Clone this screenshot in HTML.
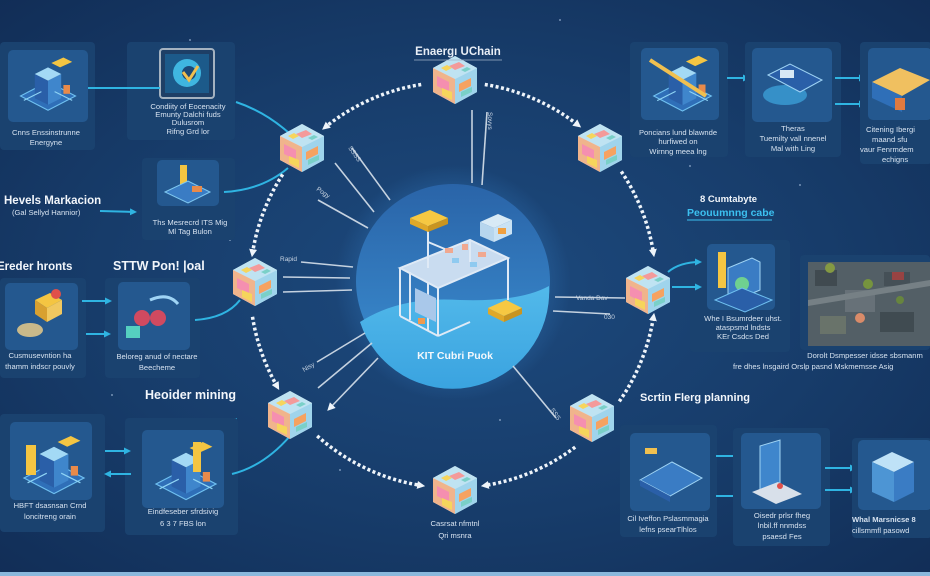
<!DOCTYPE html>
<html><head><meta charset="utf-8"><style>
html,body{margin:0;padding:0;background:#143764;}
svg{display:block;font-family:"Liberation Sans",sans-serif;}
.t{fill:#d6e2f0;font-size:7.6px;text-anchor:middle;}
.ts{fill:#d6e2f0;font-size:7.6px;}
.h{fill:#f2f6fb;font-size:12.5px;font-weight:bold;}
.lbl{fill:#c9d5e3;font-size:6.5px;}
.po{fill:#1a426f;}
.pi{fill:#24588f;}
.cy{stroke:#2fb4e2;stroke-width:2;fill:none;}
.rl{stroke:#c5d2e0;stroke-width:1.6;}
</style></head><body>
<svg width="930" height="576" viewBox="0 0 930 576" xmlns="http://www.w3.org/2000/svg">
<defs>
<radialGradient id="bg" cx="50%" cy="50%" r="72%">
<stop offset="0" stop-color="#1d4a7e"/><stop offset="0.55" stop-color="#173c6a"/><stop offset="1" stop-color="#112d56"/>
</radialGradient>
<radialGradient id="glow" cx="50%" cy="50%" r="50%">
<stop offset="0.7" stop-color="#2a67a5" stop-opacity="0.6"/><stop offset="1" stop-color="#2a67a5" stop-opacity="0"/>
</radialGradient>
<linearGradient id="cg" x1="0" y1="0" x2="0" y2="1">
<stop offset="0" stop-color="#2a64a8"/><stop offset="1" stop-color="#3b8fd2"/>
</linearGradient>
<linearGradient id="wg" x1="0" y1="0" x2="0" y2="1">
<stop offset="0" stop-color="#52b9ea"/><stop offset="1" stop-color="#3aa3e0"/>
</linearGradient>
<marker id="ah" markerWidth="8" markerHeight="8" refX="4" refY="4" orient="auto" markerUnits="userSpaceOnUse">
<path d="M0,0 L8,4 L0,8 z" fill="#eef4fa"/></marker>
<marker id="ac" markerWidth="7" markerHeight="7" refX="5" refY="3.5" orient="auto" markerUnits="userSpaceOnUse">
<path d="M0,0 L7,3.5 L0,7 z" fill="#2fb4e2"/></marker>
<g id="cube">
<polygon points="0,-24 22,-12 22,12 0,24 -22,12 -22,-12" fill="#e6f2f8"/>
<polygon points="0,-24 22,-12 0,-1 -22,-12" fill="#bfe3f2"/>
<polygon points="-22,-12 0,-1 0,24 -22,12" fill="#f0b48c"/>
<polygon points="0,-1 22,-12 22,12 0,24" fill="#9fd4ec"/>
<polygon points="-18,-4 -6,2 -6,12 -18,6" fill="#f58fb0"/>
<polygon points="-13,8 -3,12 -3,20 -13,15" fill="#f6d55c"/>
<polygon points="4,4 16,-2 16,6 4,12" fill="#f6a261"/>
<polygon points="6,12 17,7 17,12 6,17" fill="#7ad0c8"/>
<polygon points="-6,-14 4,-18 10,-14 0,-10" fill="#f49a9a"/>
<polygon points="-14,-12 -8,-15 -3,-12 -9,-9" fill="#f6d55c"/>
<polygon points="6,-10 12,-13 16,-11 10,-8" fill="#7ad0c8"/>
</g>
<g id="bld">
<polygon points="5,40 30,27 55,40 30,53" fill="#2f6fb8" stroke="#6fc0f0" stroke-width="1"/>
<polygon points="18,20 30,26 30,48 18,42" fill="#2a5fa8"/>
<polygon points="30,26 42,20 42,42 30,48" fill="#3f86cc"/>
<polygon points="18,20 30,14 42,20 30,26" fill="#a3d9f5"/>
<polygon points="33,10 44,5 52,9 41,14" fill="#f4c542"/>
<rect x="44" y="30" width="6" height="8" fill="#e88a4a"/>
<line x1="8" y1="44" x2="24" y2="36" stroke="#8fd4f5" stroke-width="1"/>
<line x1="36" y1="36" x2="52" y2="44" stroke="#8fd4f5" stroke-width="1"/>
</g>
</defs>

<rect width="930" height="576" fill="url(#bg)"/>
<rect x="0" y="572" width="930" height="4" fill="#8ab8dc"/>

<g fill="#9fb8d6" opacity="0.7">
<circle cx="190" cy="40" r="1"/><circle cx="560" cy="20" r="1"/><circle cx="800" cy="185" r="1"/><circle cx="230" cy="240" r="1"/><circle cx="690" cy="166" r="1"/><circle cx="500" cy="420" r="1"/><circle cx="112" cy="395" r="1"/><circle cx="340" cy="470" r="1"/></g>

<!-- ===== LEFT PANELS ===== -->
<rect class="po" x="0" y="42" width="95" height="108" rx="4"/>
<rect class="pi" x="8" y="50" width="80" height="72" rx="5"/>
<use href="#bld" transform="translate(15,52) scale(1.1)"/>
<text class="t" x="46" y="135">Cnns Enssinstrunne</text>
<text class="t" x="46" y="145">Energyne</text>

<rect class="po" x="127" y="42" width="108" height="98" rx="4"/>
<rect x="160" y="49" width="54" height="49" rx="3" fill="#1e3f66" stroke="#a4b2c0" stroke-width="2"/>
<rect x="165" y="54" width="44" height="39" fill="#1c5a8a"/>
<circle cx="187" cy="73" r="14" fill="#3fb6e0"/>
<circle cx="189" cy="73" r="7" fill="#1c4a78"/>
<path d="M183,72 L189,80 L198,66" stroke="#f0c050" stroke-width="3" fill="none"/>
<text class="t" x="188" y="109">Condiity of Eocenacity</text>
<text class="t" x="188" y="117">Emunty Dalchi fuds</text>
<text class="t" x="188" y="125">Dulusrom</text>
<text class="t" x="188" y="134">Rifng Grd lor</text>
<line class="cy" x1="88" y1="88" x2="160" y2="88"/>
<path class="cy" d="M236,102 Q266,112 290,134"/>

<text class="h" x="4" y="204" style="font-size:11.5px">Hevels Markacion</text>
<text class="ts" x="12" y="215">(Gal Sellyd Hannior)</text>
<line class="cy" x1="100" y1="211" x2="135" y2="212" marker-end="url(#ac)"/>
<rect class="po" x="142" y="158" width="93" height="82" rx="4"/>
<rect class="pi" x="157" y="160" width="62" height="46" rx="5"/>
<rect x="180" y="165" width="7" height="22" fill="#f4c542"/>
<polygon points="165,192 188,181 210,192 188,203" fill="#3a7cc4" stroke="#7fc8f0"/>
<rect x="192" y="186" width="10" height="6" fill="#e88a4a"/>
<text class="t" x="190" y="225">Ths Mesrecrd ITS Mig</text>
<text class="t" x="190" y="234">Ml Tag Bulon</text>
<path class="cy" d="M224,192 Q262,190 288,168"/>

<text class="h" x="-3" y="270" style="font-size:11.5px">Ereder hronts</text>
<text class="h" x="113" y="270">STTW Pon! |oal</text>
<rect class="po" x="0" y="278" width="86" height="100" rx="4"/>
<rect class="pi" x="5" y="283" width="73" height="67" rx="5"/>
<polygon points="35,300 50,293 62,300 47,308" fill="#f4c542"/>
<polygon points="35,300 47,308 47,322 35,314" fill="#d8a030"/>
<polygon points="47,308 62,300 62,314 47,322" fill="#f0c860"/>
<circle cx="56" cy="294" r="5" fill="#e0504a"/>
<ellipse cx="30" cy="330" rx="13" ry="7" fill="#c9b98a"/>
<text class="t" x="40" y="358">Cusmusevntion ha</text>
<text class="t" x="40" y="369">thamm indscr pouvly</text>
<rect class="po" x="105" y="278" width="95" height="100" rx="4"/>
<rect class="pi" x="118" y="282" width="72" height="68" rx="5"/>
<circle cx="142" cy="318" r="8" fill="#d04a60"/>
<circle cx="158" cy="318" r="8" fill="#d04a60"/>
<rect x="126" y="326" width="14" height="12" fill="#55d0c0"/>
<path d="M150,300 Q168,292 178,304" stroke="#9fd4f5" stroke-width="3" fill="none"/>
<text class="t" x="157" y="359">Beloreg anud of nectare</text>
<text class="t" x="157" y="370">Beecheme</text>
<line class="cy" x1="82" y1="301" x2="110" y2="301" marker-end="url(#ac)"/>
<line class="cy" x1="86" y1="334" x2="109" y2="334" marker-end="url(#ac)"/>
<path class="cy" d="M195,320 Q226,318 240,300"/>

<text class="h" x="145" y="399">Heoider mining</text>
<line x1="130" y1="419" x2="237" y2="419" stroke="#2fb4e2" stroke-width="1.5"/>
<rect class="po" x="0" y="414" width="105" height="118" rx="4"/>
<rect class="pi" x="10" y="422" width="82" height="78" rx="5"/>
<use href="#bld" transform="translate(18,430) scale(1.2)"/>
<rect x="26" y="445" width="10" height="30" fill="#f4c542"/>
<text class="t" x="50" y="508">HBFT dsasnsan Crnd</text>
<text class="t" x="50" y="519">loncitreng orain</text>
<rect class="po" x="125" y="418" width="113" height="117" rx="4"/>
<rect class="pi" x="142" y="430" width="82" height="78" rx="5"/>
<use href="#bld" transform="translate(150,436) scale(1.2)"/>
<rect x="193" y="442" width="8" height="30" fill="#f4c542"/>
<text class="t" x="183" y="514">Eindfeseber sfrdsivig</text>
<text class="t" x="183" y="526">6 3 7 FBS lon</text>
<line class="cy" x1="105" y1="451" x2="129" y2="451" marker-end="url(#ac)"/>
<line class="cy" x1="131" y1="474" x2="106" y2="474" marker-end="url(#ac)"/>
<path class="cy" d="M232,474 Q264,466 290,436"/>

<!-- ===== RIGHT PANELS ===== -->
<rect class="po" x="630" y="42" width="98" height="115" rx="4"/>
<rect class="pi" x="641" y="48" width="78" height="72" rx="5"/>
<use href="#bld" transform="translate(648,50) scale(1.15)"/>
<line x1="650" y1="60" x2="706" y2="96" stroke="#f0c050" stroke-width="4"/>
<text class="t" x="678" y="135">Poncians lund blawnde</text>
<text class="t" x="678" y="144">hurfiwed on</text>
<text class="t" x="678" y="154">Wirnng meea lng</text>
<line class="cy" x1="727" y1="78" x2="748" y2="78" marker-end="url(#ac)"/>

<rect class="po" x="745" y="42" width="96" height="115" rx="4"/>
<rect class="pi" x="752" y="48" width="80" height="74" rx="5"/>
<ellipse cx="785" cy="95" rx="22" ry="10" fill="#3fa8e0" opacity="0.7"/>
<polygon points="768,75 790,64 822,80 800,92" fill="#2a5fa8" stroke="#9fd4f5"/>
<rect x="780" y="70" width="14" height="8" fill="#d8e8f5"/>
<text class="t" x="793" y="131">Theras</text>
<text class="t" x="793" y="141">Tuemilty vall nnenel</text>
<text class="t" x="793" y="151">Mal with Ling</text>
<line class="cy" x1="835" y1="78" x2="864" y2="78" marker-end="url(#ac)"/>
<line class="cy" x1="835" y1="104" x2="864" y2="104" marker-end="url(#ac)"/>

<rect class="po" x="860" y="42" width="72" height="122" rx="4"/>
<rect class="pi" x="868" y="48" width="64" height="72" rx="5"/>
<polygon points="872,82 900,68 930,80 902,96" fill="#f0c060"/>
<polygon points="872,82 902,96 902,112 872,98" fill="#2f6fb8"/>
<rect x="895" y="98" width="10" height="12" fill="#e07a40"/>
<text class="ts" x="866" y="132">Citening Ibergi</text>
<text class="ts" x="872" y="142">maand sfu</text>
<text class="ts" x="860" y="152">vaur Fenrmdem</text>
<text class="ts" x="882" y="162">echigns</text>

<text x="700" y="202" fill="#f2f6fb" font-size="9.5" font-weight="bold">8 Cumtabyte</text>
<text x="687" y="216" fill="#3cc0f0" font-size="10.5" font-weight="bold">Peouumnng cabe</text>
<line x1="687" y1="220" x2="772" y2="220" stroke="#3cc0f0" stroke-width="1"/>

<rect class="po" x="690" y="240" width="100" height="112" rx="4"/>
<rect class="pi" x="707" y="244" width="68" height="66" rx="5"/>
<rect x="718" y="252" width="8" height="36" fill="#f4c542"/>
<polygon points="728,268 752,258 760,262 760,290 736,300 728,296" fill="#3a7cc4" stroke="#9fd4f5"/>
<circle cx="742" cy="284" r="7" fill="#6fd090"/>
<polygon points="715,300 742,288 772,300 745,312" fill="#2a5fa8" stroke="#6fc0f0"/>
<text class="t" x="743" y="321">Whe I Bsumrdeer uhst.</text>
<text class="t" x="743" y="330">ataspsmd lndsts</text>
<text class="t" x="743" y="339">KEr Csdcs Ded</text>
<path class="cy" d="M668,272 Q680,262 700,262" marker-end="url(#ac)"/>
<line class="cy" x1="672" y1="287" x2="700" y2="287" marker-end="url(#ac)"/>

<rect class="po" x="800" y="255" width="130" height="95" rx="4"/>
<rect x="808" y="262" width="122" height="84" fill="#535f66"/>
<g opacity="0.9">
<rect x="815" y="270" width="22" height="16" fill="#3e484e"/>
<rect x="845" y="290" width="30" height="22" fill="#6a747a"/>
<rect x="884" y="272" width="26" height="14" fill="#444f56"/>
<rect x="820" y="316" width="26" height="18" fill="#6c766b"/>
<rect x="880" y="312" width="34" height="20" fill="#3f494f"/>
<polygon points="808,300 930,280 930,286 808,306" fill="#7a8489"/>
<circle cx="830" cy="268" r="5" fill="#8aa040"/>
<circle cx="868" cy="284" r="5" fill="#7a9a3a"/>
<circle cx="900" cy="300" r="4" fill="#6a8a3a"/>
<circle cx="860" cy="318" r="5" fill="#e8906a"/>
<rect x="892" y="272" width="12" height="8" fill="#a04040"/>
</g>
<text class="t" x="865" y="358">Dorolt Dsmpesser idsse sbsmanm</text>
<text class="ts" x="733" y="369">fre dhes lnsgaird Orslp pasnd Mskmemsse Asig</text>

<text class="h" x="640" y="401" style="font-size:11px">Scrtin Flerg planning</text>
<rect class="po" x="620" y="425" width="97" height="112" rx="4"/>
<rect class="pi" x="630" y="433" width="80" height="78" rx="5"/>
<polygon points="640,480 672,462 702,478 670,496" fill="#3a7cc4" stroke="#9fd4f5"/>
<polygon points="640,480 670,496 670,502 640,486" fill="#2a5fa8"/>
<rect x="645" y="448" width="12" height="6" fill="#f0c050"/>
<text class="t" x="668" y="521">Cil Iveffon Pslasmmagia</text>
<text class="t" x="668" y="532">lefns psearTlhlos</text>
<line class="cy" x1="716" y1="456" x2="738" y2="456" marker-end="url(#ac)"/>
<line class="cy" x1="716" y1="496" x2="738" y2="496" marker-end="url(#ac)"/>

<rect class="po" x="733" y="428" width="97" height="118" rx="4"/>
<rect class="pi" x="741" y="433" width="80" height="76" rx="5"/>
<polygon points="760,446 780,440 780,486 760,492" fill="#3f86cc" stroke="#9fd4f5"/>
<polygon points="752,492 778,482 802,494 776,504" fill="#d8e0ea"/>
<circle cx="780" cy="486" r="3" fill="#e0504a"/>
<text class="t" x="782" y="518">Oisedr prlsr fheg</text>
<text class="t" x="782" y="528">lnbil.ff nnmdss</text>
<text class="t" x="782" y="539">psaesd Fes</text>
<line class="cy" x1="825" y1="468" x2="855" y2="468" marker-end="url(#ac)"/>
<line class="cy" x1="825" y1="490" x2="855" y2="490" marker-end="url(#ac)"/>

<rect class="po" x="852" y="438" width="80" height="100" rx="4"/>
<rect class="pi" x="858" y="440" width="74" height="70" rx="5"/>
<polygon points="872,462 892,452 914,462 894,472" fill="#bfe2f7"/>
<polygon points="872,462 894,472 894,502 872,492" fill="#4d95d4"/>
<polygon points="894,472 914,462 914,492 894,502" fill="#3a7cc4"/>
<text class="ts" x="852" y="522" font-weight="bold">Whal Marsnicse 8</text>
<text class="ts" x="852" y="533">cillsmmfl pasowd</text>

<!-- ===== CENTER ===== -->
<circle cx="453" cy="283" r="118" fill="url(#glow)"/>
<circle cx="453" cy="281" r="97" fill="url(#cg)"/>
<path d="M360,322 Q400,296 460,300 Q520,302 549,286 A97,97 0 0 1 360,322 z" fill="url(#wg)"/>
<g stroke="#dfeaf6" stroke-width="2" fill="none">
<polygon points="400,268 470,240 508,258 438,288" fill="#c9dcf0"/>
<line x1="400" y1="268" x2="400" y2="316"/><line x1="438" y1="288" x2="438" y2="336"/>
<line x1="508" y1="258" x2="508" y2="300"/><line x1="470" y1="240" x2="470" y2="262"/>
<line x1="410" y1="272" x2="410" y2="320"/><line x1="428" y1="282" x2="428" y2="330"/>
<line x1="400" y1="316" x2="438" y2="336"/><line x1="438" y1="336" x2="470" y2="322"/>
<line x1="428" y1="225" x2="428" y2="268"/><line x1="428" y1="242" x2="452" y2="252"/>
</g>
<polygon points="415,288 436,298 436,322 415,312" fill="#a9c8ea"/>
<g fill="#f0a890"><rect x="445" y="248" width="8" height="5"/><rect x="462" y="244" width="6" height="6"/><rect x="478" y="252" width="8" height="5"/></g>
<g fill="#8fcaf0"><rect x="452" y="258" width="7" height="5"/><rect x="470" y="262" width="7" height="5"/></g>
<polygon points="410,218 430,210 448,218 428,226" fill="#f6c842"/>
<polygon points="410,218 428,226 428,232 410,224" fill="#e0a828"/>
<polygon points="428,226 448,218 448,224 428,232" fill="#c89420"/>
<polygon points="480,222 498,214 512,220 494,228" fill="#d8eaf6"/>
<polygon points="480,222 494,228 494,242 480,236" fill="#b7d6ee"/>
<polygon points="494,228 512,220 512,234 494,242" fill="#c9e2f4"/>
<rect x="498" y="228" width="8" height="6" fill="#f0a040"/>
<polygon points="488,308 506,300 522,308 504,316" fill="#f6c842"/>
<polygon points="488,308 504,316 504,322 488,314" fill="#e0a828"/>
<polygon points="504,316 522,308 522,314 504,322" fill="#c89420"/>
<rect x="418" y="318" width="7" height="6" fill="#f09a50"/>
<text x="455" y="359" fill="#f4f8fc" font-size="10.5" font-weight="bold" text-anchor="middle">KIT Cubri Puok</text>

<!-- radial lines -->
<line class="rl" x1="472" y1="110" x2="472" y2="183"/>
<line class="rl" x1="487" y1="112" x2="482" y2="185"/>
<text class="lbl" transform="translate(488,112) rotate(90)">Sovys</text>
<line class="rl" x1="335" y1="163" x2="374" y2="212"/>
<line class="rl" x1="352" y1="148" x2="390" y2="200"/>
<line class="rl" x1="318" y1="200" x2="368" y2="228"/>
<text class="lbl" transform="translate(348,148) rotate(55)">SSSS</text>
<text class="lbl" transform="translate(316,190) rotate(35)">Pogy</text>
<line class="rl" x1="301" y1="262" x2="353" y2="267"/>
<line class="rl" x1="283" y1="277" x2="350" y2="278"/>
<line class="rl" x1="283" y1="292" x2="352" y2="290"/>
<text class="lbl" x="280" y="261">Rapid</text>
<line class="rl" x1="555" y1="297" x2="625" y2="298"/>
<line class="rl" x1="553" y1="311" x2="610" y2="314"/>
<text class="lbl" x="576" y="300">Vanda Dav</text>
<text class="lbl" x="604" y="319">030</text>
<line class="rl" x1="365" y1="333" x2="317" y2="362"/>
<line class="rl" x1="372" y1="343" x2="318" y2="388"/>
<line class="rl" x1="378" y1="358" x2="330" y2="408" marker-end="url(#ah)"/>
<text class="lbl" transform="translate(304,372) rotate(-30)">Nisy</text>
<line class="rl" x1="513" y1="366" x2="556" y2="418"/>
<text class="lbl" transform="translate(550,410) rotate(55)">SSS</text>

<!-- dotted ring -->
<g stroke="#eef4fa" stroke-width="3.5" fill="none" stroke-dasharray="3 2.5">
<path d="M484.8,84.5 A203,203 0 0 1 578,125" marker-end="url(#ah)"/>
<path d="M621.3,171.5 A203,203 0 0 1 653.5,253.2" marker-end="url(#ah)"/>
<path d="M619.3,401.4 A203,203 0 0 0 653.5,316.8" marker-end="url(#ah)"/>
<path d="M575.2,447.1 A203,203 0 0 1 484.8,485.5" marker-end="url(#ah)"/>
<path d="M317.2,435.9 A203,203 0 0 0 421.2,485.5" marker-end="url(#ah)"/>
<path d="M252.5,316.8 A203,203 0 0 0 277.2,386.5" marker-end="url(#ah)"/>
<path d="M282.7,174.4 A203,203 0 0 0 252.5,253.2" marker-end="url(#ah)"/>
<path d="M421.2,84.5 A203,203 0 0 0 325.2,127.2" marker-end="url(#ah)"/>
</g>

<!-- cubes -->
<use href="#cube" transform="translate(455,80)"/>
<use href="#cube" transform="translate(600,148)"/>
<use href="#cube" transform="translate(648,290)"/>
<use href="#cube" transform="translate(592,418)"/>
<use href="#cube" transform="translate(455,490)"/>
<use href="#cube" transform="translate(290,415)"/>
<use href="#cube" transform="translate(255,282)"/>
<use href="#cube" transform="translate(302,148)"/>

<text x="458" y="55" fill="#e8eef6" font-size="11.5" font-weight="bold" text-anchor="middle">Enaergı UChain</text>
<line x1="414" y1="60" x2="502" y2="60" stroke="#9fb2c8" stroke-width="0.8"/>
<text class="t" x="455" y="526">Casrsat nfmtnl</text>
<text class="t" x="455" y="538">Qri msnra</text>
</svg>
</body></html>
